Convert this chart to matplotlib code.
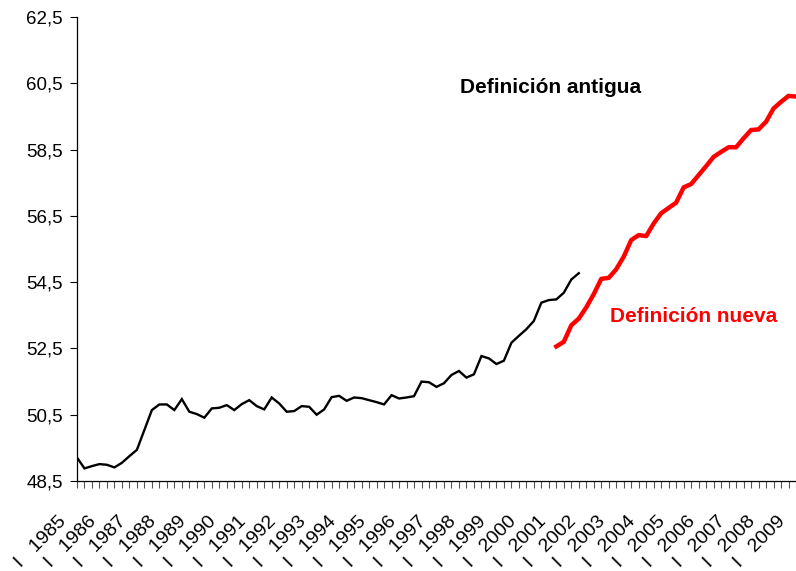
import numpy as np
import matplotlib
matplotlib.use("Agg")
import matplotlib.pyplot as plt
from matplotlib.ticker import FixedLocator

plt.rcParams['font.family'] = ['Liberation Sans', 'DejaVu Sans']

# quarterly series, 1985 Q1 .. 2009 Q1
years = list(range(1985, 2010))
n_quarters = 97

# old definition, from 1985 Q1 to 2001 Q4
old_start = 0
old_def = [49.21, 48.88, 48.95, 49.01, 48.99, 48.91, 49.05, 49.25,
           49.44, 50.04, 50.64, 50.81, 50.81, 50.64, 50.97, 50.59,
           50.52, 50.41, 50.69, 50.71, 50.79, 50.64, 50.82, 50.94,
           50.76, 50.66, 51.02, 50.84, 50.59, 50.61, 50.76, 50.74,
           50.50, 50.66, 51.03, 51.07, 50.92, 51.02, 51.00, 50.94,
           50.88, 50.81, 51.09, 50.99, 51.02, 51.06, 51.50, 51.48,
           51.34, 51.45, 51.70, 51.82, 51.62, 51.72, 52.27, 52.20,
           52.03, 52.13, 52.67, 52.88, 53.08, 53.33, 53.88, 53.96,
           53.98, 54.18, 54.58, 54.77]

# new definition, from 2001 Q1 to 2009 Q1
new_start = 64
new_def = [52.56, 52.70, 53.20, 53.40, 53.74, 54.14, 54.60, 54.63,
           54.89, 55.27, 55.77, 55.92, 55.89, 56.27, 56.58, 56.74,
           56.90, 57.36, 57.46, 57.73, 58.00, 58.28, 58.43, 58.57,
           58.57, 58.84, 59.09, 59.11, 59.34, 59.74, 59.94, 60.12,
           60.10]

y_ticks = [48.5, 50.5, 52.5, 54.5, 56.5, 58.5, 60.5, 62.5]

fig = plt.figure(figsize=(7.96, 5.71), dpi=100)
ax = fig.add_axes([0.0967, 0.1576, 1 - 0.0967, 0.9702 - 0.1576])

x_old = np.arange(old_start, old_start + len(old_def))
x_new = np.arange(new_start, new_start + len(new_def))
ax.plot(x_old, old_def, color='black', lw=1.7, solid_joinstyle='miter')
ax.plot(x_new, new_def, color='#ff0000', lw=3.2, solid_joinstyle='round')

ax.set_xlim(0, n_quarters - 1)
ax.set_ylim(48.5, 62.5)

ax.set_yticks(y_ticks)
ax.set_yticklabels([f"{v:.1f}".replace('.', ',') for v in y_ticks], fontsize=13.5)
ax.tick_params(axis='y', direction='out', length=5, width=0.8, pad=5)

ax.xaxis.set_major_locator(FixedLocator(np.arange(n_quarters)))
ax.set_xticklabels([])
ax.tick_params(axis='x', direction='out', length=5, width=0.8, color='#555555')

# year labels with the quarter numeral, rotated like the original
for k, yr in enumerate(years):
    ax.annotate(f"I   {yr}", xy=(4 * k, 0), xycoords=('data', 'axes fraction'),
                xytext=(-13, -38), textcoords='offset pixels',
                ha='right', va='center', rotation=45, rotation_mode='anchor',
                fontsize=14, annotation_clip=False)

for side in ['top', 'right']:
    ax.spines[side].set_visible(False)
ax.spines['left'].set_linewidth(0.9)
ax.spines['bottom'].set_linewidth(0.9)

ax.text(0.533, 0.8356, "Definición antigua", transform=ax.transAxes,
        ha='left', va='baseline', fontsize=15, fontweight='bold', color='black')
ax.text(0.741, 0.343, "Definición nueva", transform=ax.transAxes,
        ha='left', va='baseline', fontsize=15, fontweight='bold', color='#ff0000')

fig.savefig("out.png", dpi=100)
